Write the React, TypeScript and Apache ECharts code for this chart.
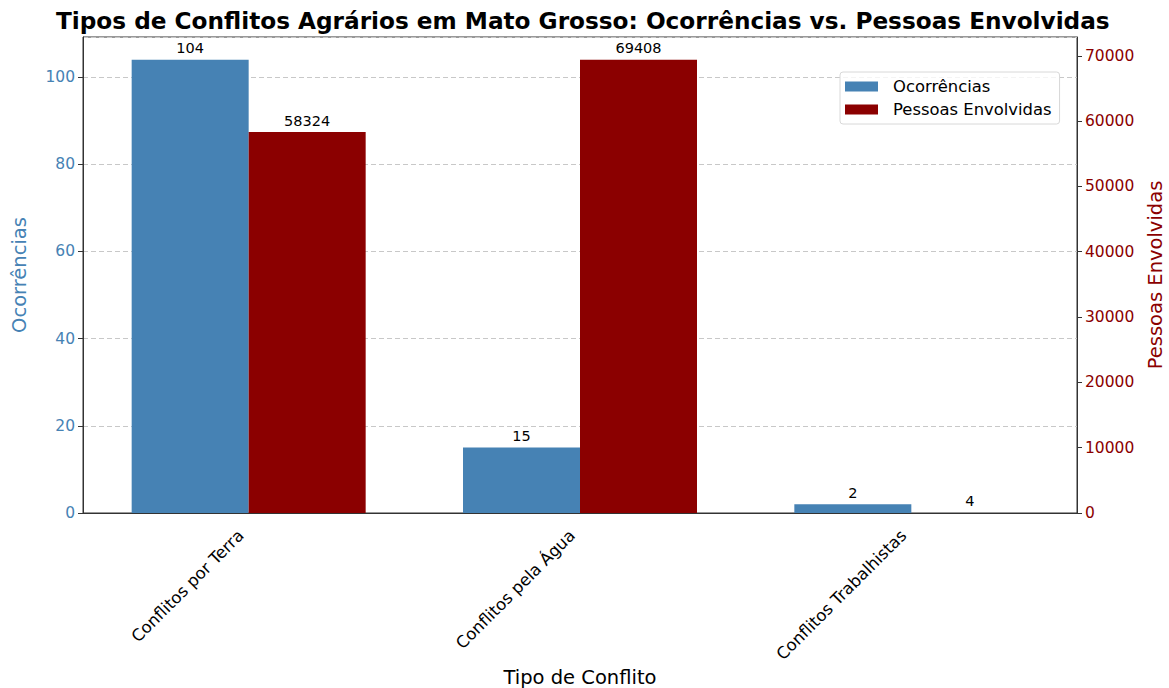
import React, { useEffect, useRef } from "react";
import * as echarts from "echarts";

const categories = ["Conflitos por Terra", "Conflitos pela Água", "Conflitos Trabalhistas"];
const ocorrencias = [104, 15, 2];
const pessoas = [58324, 69408, 4];
const titleText = "Tipos de Conflitos Agrários em Mato Grosso: Ocorrências vs. Pessoas Envolvidas";

const FONT = "DejaVu Sans";
const BLUE = "#4682b4";
const RED = "#8b0000";

export default function App() {
  const ref = useRef<HTMLDivElement>(null);
  useEffect(() => {
    if (!ref.current) return;
    const chart = echarts.init(ref.current, undefined, { renderer: "svg" });
    const leftMax = Math.max(...ocorrencias) * 1.05;
    const rightMax = Math.max(...pessoas) * 1.05;
    chart.setOption({
      animation: false,
      textStyle: { fontFamily: FONT },
      title: {
        text: titleText,
        left: 51,
        top: 4,
        textStyle: { fontFamily: FONT, fontWeight: "bold", fontSize: 23.2, color: "#000" },
      },
      legend: {
        orient: "vertical",
        left: 840,
        top: 72,
        itemWidth: 33,
        itemHeight: 10,
        itemGap: 6,
        padding: [6, 8, 6, 5],
        borderColor: "#d8d8d8",
        borderWidth: 1,
        borderRadius: 3,
        backgroundColor: "rgba(255,255,255,0.8)",
        textStyle: { fontFamily: FONT, fontSize: 16.4, lineHeight: 17, color: "#000", padding: [0, 0, 0, 10] },
        icon: "rect",
        data: ["Ocorrências", "Pessoas Envolvidas"],
      },
      grid: {
        left: 83,
        right: 92,
        top: 37,
        bottom: 175,
        show: true,
        borderColor: "#333",
        borderWidth: 1,
        outerBoundsMode: "none",
        containLabel: false,
      },
      xAxis: {
        type: "category",
        data: categories,
        name: "Tipo de Conflito",
        nameLocation: "middle",
        nameGap: 164,
        nameMoveOverlap: false,
        nameTextStyle: { fontFamily: FONT, fontSize: 19.5, color: "#000", verticalAlign: "middle" },
        axisLine: { lineStyle: { color: "#333" } },
        axisTick: { alignWithLabel: true, length: 5, lineStyle: { color: "#333" } },
        axisLabel: {
          rotate: 45,
          fontFamily: FONT,
          fontSize: 16.5,
          color: "#000",
          margin: 12,
          padding: [0, 11, 0, 0],
        },
      },
      yAxis: [
        {
          type: "value",
          min: 0,
          max: leftMax,
          interval: 20,
          name: "Ocorrências",
          nameLocation: "middle",
          nameGap: 54,
          nameTextStyle: { fontFamily: FONT, fontSize: 19.5, color: BLUE },
          axisLine: { show: true, lineStyle: { color: "#333" } },
          axisTick: { show: true, length: 5, lineStyle: { color: "#333" } },
          axisLabel: { fontFamily: FONT, fontSize: 15.5, color: BLUE, showMaxLabel: false, margin: 8 },
          splitLine: { show: true, lineStyle: { color: "#c8c8c8", type: [5, 3] } },
        },
        {
          type: "value",
          min: 0,
          max: rightMax,
          interval: 10000,
          name: "Pessoas Envolvidas",
          nameLocation: "middle",
          nameGap: 68,
          nameRotate: 90,
          nameTextStyle: { fontFamily: FONT, fontSize: 19.5, color: RED },
          axisLine: { show: true, lineStyle: { color: "#333" } },
          axisTick: { show: true, length: 5, lineStyle: { color: "#333" } },
          axisLabel: {
            fontFamily: FONT,
            fontSize: 15.5,
            color: RED,
            showMaxLabel: false,
            margin: 8,
            formatter: (v: number) => String(Math.round(v)),
          },
          splitLine: { show: false },
        },
      ],
      series: [
        {
          name: "Ocorrências",
          type: "bar",
          yAxisIndex: 0,
          data: ocorrencias,
          barWidth: 117,
          barGap: "0%",
          itemStyle: { color: BLUE },
          label: { show: true, position: "top", distance: 4, fontFamily: FONT, fontSize: 14.5, color: "#000" },
        },
        {
          name: "Pessoas Envolvidas",
          type: "bar",
          yAxisIndex: 1,
          data: pessoas,
          barWidth: 117,
          barGap: "0%",
          itemStyle: { color: RED },
          label: { show: true, position: "top", distance: 4, fontFamily: FONT, fontSize: 14.5, color: "#000" },
        },
      ],
    });
    return () => chart.dispose();
  }, []);
  return <div ref={ref} style={{ width: 1169, height: 688, position: "absolute", left: 0, top: 0 }} />;
}
